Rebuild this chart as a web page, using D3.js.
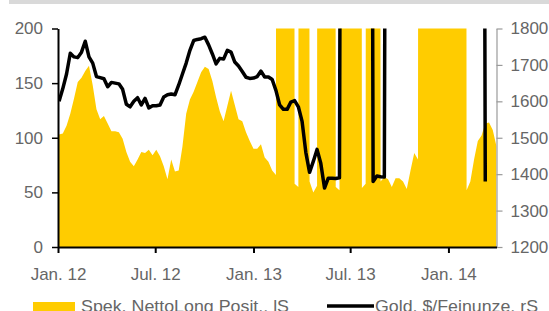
<!DOCTYPE html>
<html><head><meta charset="utf-8">
<script src="https://cdn.jsdelivr.net/npm/d3@7"></script>
<style>
body{margin:0;background:#fff}
svg{display:block}
text{font-family:"Liberation Sans",Arial,sans-serif}
</style>
</head><body>
<svg id="c" width="549" height="311"></svg>
<script>
// weekly observation dates (Tuesdays), Jan 3 2012 .. Apr 1 2014
const weeks = d3.timeDay.range(new Date(2012,0,3), new Date(2014,3,2), 7);

// Spek. NettoLong Posit. (left scale) – off-scale glitch values kept as in the source picture
const netLong = [
 103,104,111,122,136,151,155,161,166,148,
 126,117,120,113,106,106,105,99,87,78,
 74,80,87,86,89,84,89,83,74,62,
 80,69,70,92,122,135,142,151,160,165,
 163,152,137,124,115,129,143,130,117,115,
 105,97,90,90,94,82,78,70,66,5000,
 5000,5000,5000,58,55,5000,5000,60,50,56,
 5000,5000,5000,5000,55,52,5000,5000,5000,5000,
 5000,54,58,5000,5000,5000,60,64,62,55,
 63,63,60,53,70,86,80,5000,5000,5000,
 5000,5000,5000,5000,5000,5000,5000,5000,5000,52,
 60,80,97,102,113,114,107,92
];

// Gold, $/Feinunze (right scale)
const gold = [
 1600,1635,1675,1732,1722,1720,1735,1765,1722,1705,
 1668,1665,1662,1640,1652,1650,1648,1633,1592,1585,
 1600,1610,1590,1608,1582,1588,1588,1590,1612,1618,
 1620,1618,1645,1675,1705,1740,1767,1770,1772,1776,
 1755,1730,1703,1718,1716,1740,1735,1708,1697,1682,
 1666,1663,1664,1668,1683,1667,1667,1660,1630,1590,
 1578,1578,1598,1602,1585,1545,1460,1405,1435,1468,
 1430,1362,1389,1389,1388,1390,5000,5000,5000,5000,
 5000,5000,5000,5000,1380,1395,1393,1392,5000,5000,
 5000,5000,5000,5000,5000,5000,5000,5000,5000,5000,
 5000,5000,5000,5000,5000,5000,5000,5000,5000,5000,
 5000,5000,5000,5000,1380,null,null,null
];

const leftTicks = [0,50,100,150,200];
const rightTicks = [1200,1300,1400,1500,1600,1700,1800];
const xTickDates = [new Date(2012,0,1), new Date(2012,6,1), new Date(2013,0,1), new Date(2013,6,1), new Date(2014,0,1)];
const xTickLabels = ["Jan. 12","Jul. 12","Jan. 13","Jul. 13","Jan. 14"];
const legendLabels = ["Spek. NettoLong Posit., lS", "Gold, $/Feinunze, rS"];

const W = 549, H = 311;
const L = 58, R = 496.5, T = 28.5, B = 247;
const yellow = "#ffcc00";
const labelColor = "#666";
const fs = 17;

const svg = d3.select("#c");

const x = d3.scaleTime().domain([new Date(2012,0,1), new Date(2014,3,1)]).range([L, R]);
const yL = d3.scaleLinear().domain([0,200]).range([B, T]);
const yR = d3.scaleLinear().domain([1200,1800]).range([B, T]);

// top grey band
svg.append("rect").attr("x",9).attr("y",0).attr("width",W-9).attr("height",4).attr("fill","#d9d9d9");

svg.append("clipPath").attr("id","plot")
  .append("rect").attr("x",L).attr("y",T).attr("width",R-L).attr("height",B-T);

const dataA = weeks.map((d,i)=>({d, v: netLong[i]}));
const dataG = weeks.map((d,i)=>({d, v: gold[i]}));

svg.append("path")
  .datum(dataA)
  .attr("clip-path","url(#plot)")
  .attr("fill", yellow)
  .attr("d", d3.area().x(p=>x(p.d)).y0(yL(0)).y1(p=>yL(p.v)));

// left axis
const gL = svg.append("g").attr("transform",`translate(${L},0)`)
  .call(d3.axisLeft(yL).tickValues(leftTicks).tickSize(6).tickSizeOuter(0).tickPadding(9));
gL.select(".domain").attr("stroke","#000").attr("stroke-width",2);
gL.selectAll(".tick line").attr("stroke","#000").attr("stroke-width",1.5);
gL.selectAll(".tick text").attr("fill",labelColor).style("font-size",fs+"px").style("font-family","Liberation Sans, Arial, sans-serif");

// right axis
const gR = svg.append("g").attr("transform",`translate(${R},0)`)
  .call(d3.axisRight(yR).tickValues(rightTicks).tickFormat(d3.format("d")).tickSize(6).tickSizeOuter(0).tickPadding(8));
gR.select(".domain").attr("stroke","#9a9a9a").attr("stroke-width",1.2);
gR.selectAll(".tick line").attr("stroke","#9a9a9a").attr("stroke-width",1.2);
gR.selectAll(".tick text").attr("fill",labelColor).style("font-size",fs+"px").style("font-family","Liberation Sans, Arial, sans-serif");

// gold line
svg.append("path")
  .datum(dataG)
  .attr("clip-path","url(#plot)")
  .attr("fill","none")
  .attr("stroke","#000")
  .attr("stroke-width",3.5)
  .attr("stroke-linejoin","round")
  .attr("d", d3.line().defined(p=>p.v!=null).x(p=>x(p.d)).y(p=>yR(p.v)));

// bottom axis
const gB = svg.append("g").attr("transform",`translate(0,${B})`)
  .call(d3.axisBottom(x).tickValues(xTickDates).tickFormat((d,i)=>xTickLabels[i]).tickSize(6).tickSizeOuter(0).tickPadding(15));
gB.select(".domain").attr("stroke","#000").attr("stroke-width",2.2);
gB.selectAll(".tick line").attr("stroke","#000").attr("stroke-width",2);
gB.selectAll(".tick text").attr("fill",labelColor).style("font-size",fs+"px").style("font-family","Liberation Sans, Arial, sans-serif");

// legend
const lg = svg.append("g");
lg.append("rect").attr("x",33).attr("y",302).attr("width",42).attr("height",10).attr("fill",yellow);
lg.append("text").attr("x",81).attr("y",312).attr("fill",labelColor).style("font-size",fs+"px")
  .attr("textLength",208).attr("lengthAdjust","spacingAndGlyphs").text(legendLabels[0]);
lg.append("line").attr("x1",327).attr("x2",374).attr("y1",306).attr("y2",306).attr("stroke","#000").attr("stroke-width",3.5);
lg.append("text").attr("x",375).attr("y",312).attr("fill",labelColor).style("font-size",fs+"px")
  .attr("textLength",163).attr("lengthAdjust","spacingAndGlyphs").text(legendLabels[1]);
</script>
</body></html>
